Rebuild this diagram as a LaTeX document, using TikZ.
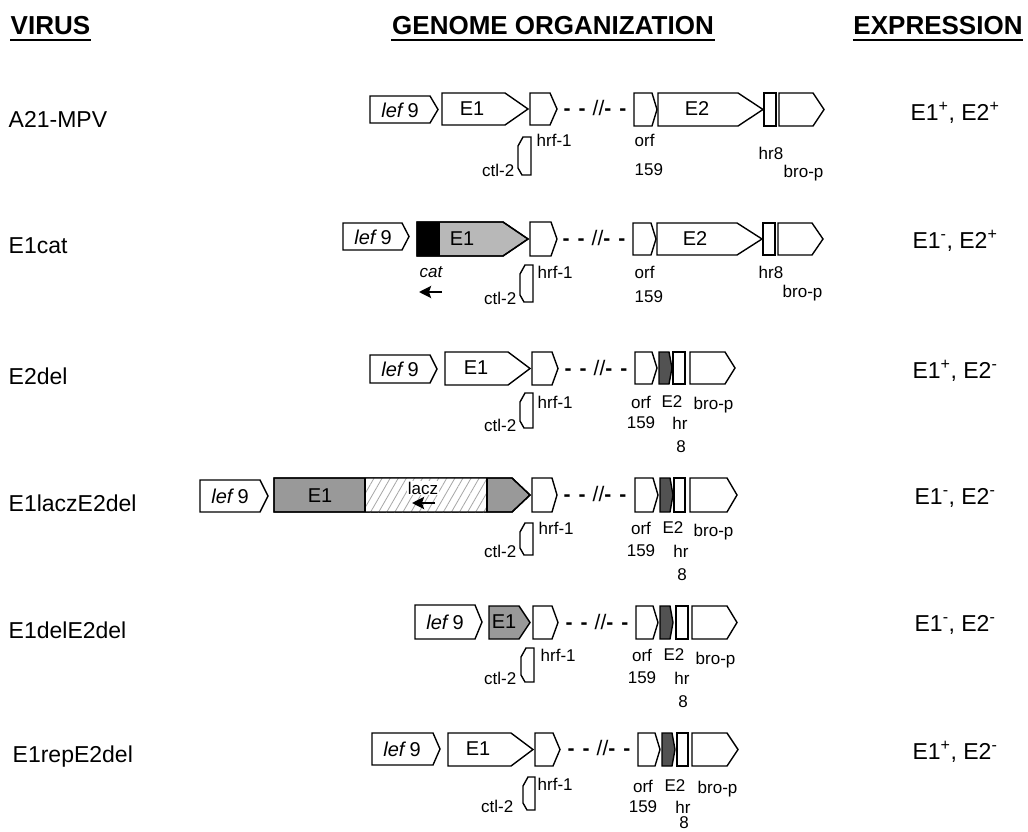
\documentclass[tikz,border=0pt]{standalone}
\usepackage{fontspec}
\setmainfont{Liberation Sans}
\usetikzlibrary{patterns,patterns.meta,arrows.meta}
\definecolor{eonegray}{gray}{0.72}
\definecolor{eonemid}{gray}{0.60}
\definecolor{etwodark}{gray}{0.32}
\newcommand\gArrow[6]{\draw[#6] (#1,#4) -- (#2,#4) -- (#3,{(#4+#5)/2}) -- (#2,#5) -- (#1,#5) -- cycle;}
\newcommand\gRect[5]{\draw[#5] (#1,#3) rectangle (#2,#4);}
\newcommand\ctlS[4]{\draw (#2,#3) -- ({#1+5},#3) -- (#1,{#3+9}) -- (#1,{#4-7}) -- ({#1+4},#4) -- (#2,#4) -- cycle;}
\newcommand\brk{{\bfseries -}\hspace{8pt}{\bfseries -}\hspace{7pt}//{\bfseries -}\hspace{8pt}{\bfseries -}}
\begin{document}
\begin{tikzpicture}[x=1pt,y=-1pt,line width=1.4pt,line join=miter,
  lbl/.style={font=\fontsize{17}{17}\selectfont,inner sep=0pt},
  gname/.style={font=\fontsize{20}{20}\selectfont,inner sep=0pt},
  rowname/.style={font=\fontsize{23}{23}\selectfont,inner sep=0pt,anchor=west},
  expr/.style={font=\fontsize{23}{23}\selectfont,inner sep=0pt},
  hdr/.style={font=\fontsize{26}{26}\bfseries\selectfont,inner sep=0pt},
  dashtxt/.style={font=\fontsize{21}{21}\selectfont,inner sep=0pt},
  revarrow/.style={line width=2.4pt,-{Stealth[length=12pt,width=12pt,inset=2pt]}}]
\useasboundingbox (0,0) rectangle (1028,832);
% headers
\node[hdr,anchor=west] (hv) at (10,26) {VIRUS};
\node[hdr] (hg) at (553,26) {GENOME ORGANIZATION};
\node[hdr] (he) at (938,26) {EXPRESSION};
\foreach \n in {hv,hg,he}{\draw[line width=2.6pt] ([yshift=-4pt]\n.south west) -- ([yshift=-4pt]\n.south east);}
% row names
\node[rowname] (n1) at (8,119) {A21-MPV};
\node[rowname] (n2) at (8,246) {E1cat};
\node[rowname] (n3) at (8,376) {E2del};
\node[rowname] (n4) at (8,503) {E1laczE2del};
\node[rowname] (n5) at (8,630) {E1delE2del};
\node[rowname] (n6) at (12,757) {E1repE2del};
% expression
\node[expr] (x1) at (955,113) {E1\textsuperscript{+}, E2\textsuperscript{+}};
\node[expr] (x2) at (955,241) {E1\textsuperscript{-}, E2\textsuperscript{+}};
\node[expr] (x3) at (955,371) {E1\textsuperscript{+}, E2\textsuperscript{-}};
\node[expr] (x4) at (955,498) {E1\textsuperscript{-}, E2\textsuperscript{-}};
\node[expr] (x5) at (955,625) {E1\textsuperscript{-}, E2\textsuperscript{-}};
\node[expr] (x6) at (955,752) {E1\textsuperscript{+}, E2\textsuperscript{-}};
% ===== row 1
\gArrow{370}{430}{438}{96}{123}{}
\node[gname] (l1) at (400,110) {\textit{lef}\,9};
\gArrow{442}{505}{528}{93}{125}{}
\node[gname] (e1a) at (472,109) {E1};
\gArrow{530}{550}{557}{93}{125}{}
\node[dashtxt] (d1) at (595,108) {\brk};
\gArrow{634}{652}{657}{93}{126}{}
\gArrow{658}{738}{763}{93}{126}{}
\node[gname] (e2a) at (697,109) {E2};
\gRect{764}{776}{93}{126}{}
\gArrow{779}{813}{824}{93}{126}{}
\node[lbl,anchor=west] (h1) at (536,140) {hrf-1};
\ctlS{518}{531}{137}{175}
\node[lbl,anchor=east] (c1) at (515,170) {ctl-2};
\node[lbl,anchor=west] (o1) at (634,140) {orf};
\node[lbl,anchor=west] (f1) at (634,170) {159};
\node[lbl,anchor=west] (r1) at (758,153) {hr8};
\node[lbl,anchor=west] (b1) at (783,173) {bro-p};
% ===== row 2
\gArrow{343}{402}{409}{223}{250}{}
\node[gname] (l2) at (373,237) {\textit{lef}\,9};
\gArrow{417}{503}{528}{222}{256}{fill=eonegray}
\fill (417,222) rectangle (440,256);
\gArrow{417}{503}{528}{222}{256}{}
\node[gname] (e1b) at (462,239) {E1};
\gArrow{530}{551}{557}{222}{256}{}
\node[dashtxt] (d2) at (594,238) {\brk};
\gArrow{633}{651}{656}{223}{255}{}
\gArrow{657}{737}{762}{223}{255}{}
\node[gname] (e2b) at (695,239) {E2};
\gRect{763}{775}{223}{255}{}
\gArrow{778}{812}{823}{223}{255}{}
\node[lbl,font=\fontsize{17}{17}\itshape\selectfont] (cat) at (431,272) {cat};
\coordinate (ca) at (442,292);
\coordinate (cb) at (419,292);
\draw[revarrow] (ca) -- (cb);
\ctlS{520}{533}{265}{302}
\node[lbl,anchor=east] (c2) at (517,298) {ctl-2};
\node[lbl,anchor=west] (h2) at (537,272) {hrf-1};
\node[lbl,anchor=west] (o2) at (634,272) {orf};
\node[lbl,anchor=west] (f2) at (634,297) {159};
\node[lbl,anchor=west] (r2) at (758,272) {hr8};
\node[lbl,anchor=west] (b2) at (782,293) {bro-p};
% ===== row 3
\gArrow{370}{430}{437}{355}{383}{}
\node[gname] (l3) at (400,369) {\textit{lef}\,9};
\gArrow{445}{508}{530}{352}{385}{}
\node[gname] (e1c) at (476,368) {E1};
\gArrow{532}{552}{558}{352}{385}{}
\node[dashtxt] (d3) at (596,368) {\brk};
\gArrow{635}{652}{657}{352}{384}{}
\gArrow{659}{669}{672}{352}{384}{fill=etwodark}
\gRect{673}{685}{352}{384}{}
\gArrow{690}{725}{735}{352}{384}{}
\node[lbl,anchor=west] (h3) at (537,402) {hrf-1};
\ctlS{520}{533}{393}{428}
\node[lbl,anchor=east] (c3) at (517,425) {ctl-2};
\node[lbl] (o3) at (641,402) {orf};
\node[lbl] (e2c) at (672,402) {E2};
\node[lbl,anchor=west] (b3) at (693,405) {bro-p};
\node[lbl] (f3) at (641,423) {159};
\node[lbl] (r3) at (680,423) {hr};
\node[lbl] (g3) at (681,447) {8};
% ===== row 4
\gArrow{200}{260}{268}{480}{512}{}
\node[gname] (l4) at (230,496) {\textit{lef}\,9};
\gArrow{274}{512}{530}{478}{512}{fill=eonemid}
\fill[white] (365,478) rectangle (487,512);
\fill[pattern={Lines[angle=60,distance=7pt,line width=0.8pt]},pattern color=gray!70] (365,478) rectangle (487,512);
\draw (365,478) -- (365,512) (487,478) -- (487,512);
\gArrow{274}{512}{530}{478}{512}{}
\node[gname] (e1d) at (320,496) {E1};
\node[lbl,fill=white,inner sep=1pt] (lz) at (423,488) {lacz};
\coordinate (la) at (435,503);
\coordinate (lb) at (412,503);
\draw[revarrow] (la) -- (lb);
\gArrow{532}{552}{557}{478}{512}{}
\node[dashtxt] (d4) at (595,494) {\brk};
\gArrow{635}{653}{658}{478}{512}{}
\gArrow{660}{670}{673}{478}{512}{fill=etwodark}
\gRect{674}{685}{478}{512}{}
\gArrow{690}{727}{737}{478}{512}{}
\node[lbl,anchor=west] (h4) at (538,528) {hrf-1};
\ctlS{520}{533}{523}{555}
\node[lbl,anchor=east] (c4) at (517,551) {ctl-2};
\node[lbl] (o4) at (641,528) {orf};
\node[lbl] (e2d) at (673,528) {E2};
\node[lbl,anchor=west] (b4) at (693,532) {bro-p};
\node[lbl] (f4) at (641,551) {159};
\node[lbl] (r4) at (681,551) {hr};
\node[lbl] (g4) at (682,575) {8};
% ===== row 5
\gArrow{415}{475}{482}{605}{639}{}
\node[gname] (l5) at (445,622) {\textit{lef}\,9};
\gArrow{489}{519}{530}{606}{639}{fill=eonemid}
\node[gname] (e1e) at (504,622) {E1};
\gArrow{533}{552}{558}{606}{639}{}
\node[dashtxt] (d5) at (597,622) {\brk};
\gArrow{636}{653}{658}{606}{639}{}
\gArrow{660}{670}{673}{606}{639}{fill=etwodark}
\gRect{676}{688}{606}{639}{}
\gArrow{692}{727}{737}{606}{639}{}
\node[lbl,anchor=west] (h5) at (540,655) {hrf-1};
\ctlS{521}{534}{648}{682}
\node[lbl,anchor=east] (c5) at (517,678) {ctl-2};
\node[lbl] (o5) at (642,655) {orf};
\node[lbl] (e2e) at (674,655) {E2};
\node[lbl,anchor=west] (b5) at (695,660) {bro-p};
\node[lbl] (f5) at (642,678) {159};
\node[lbl] (r5) at (682,678) {hr};
\node[lbl] (g5) at (683,702) {8};
% ===== row 6
\gArrow{372}{433}{440}{733}{765}{}
\node[gname] (l6) at (402,749) {\textit{lef}\,9};
\gArrow{448}{511}{533}{733}{766}{}
\node[gname] (e1f) at (478,749) {E1};
\gArrow{535}{553}{560}{733}{766}{}
\node[dashtxt] (d6) at (599,748) {\brk};
\gArrow{638}{655}{660}{733}{766}{}
\gArrow{662}{672}{675}{733}{766}{fill=etwodark}
\gRect{677}{688}{733}{766}{}
\gArrow{692}{727}{738}{733}{766}{}
\node[lbl,anchor=west] (h6) at (537,784) {hrf-1};
\ctlS{523}{535}{777}{810}
\node[lbl,anchor=east] (c6) at (514,806) {ctl-2};
\node[lbl] (o6) at (643,786) {orf};
\node[lbl] (e2f) at (675,786) {E2};
\node[lbl,anchor=west] (b6) at (697,789) {bro-p};
\node[lbl] (f6) at (643,807) {159};
\node[lbl] (r6) at (683,807) {hr};
\node[lbl] (g6) at (684,823) {8};
\end{tikzpicture}
\end{document}
